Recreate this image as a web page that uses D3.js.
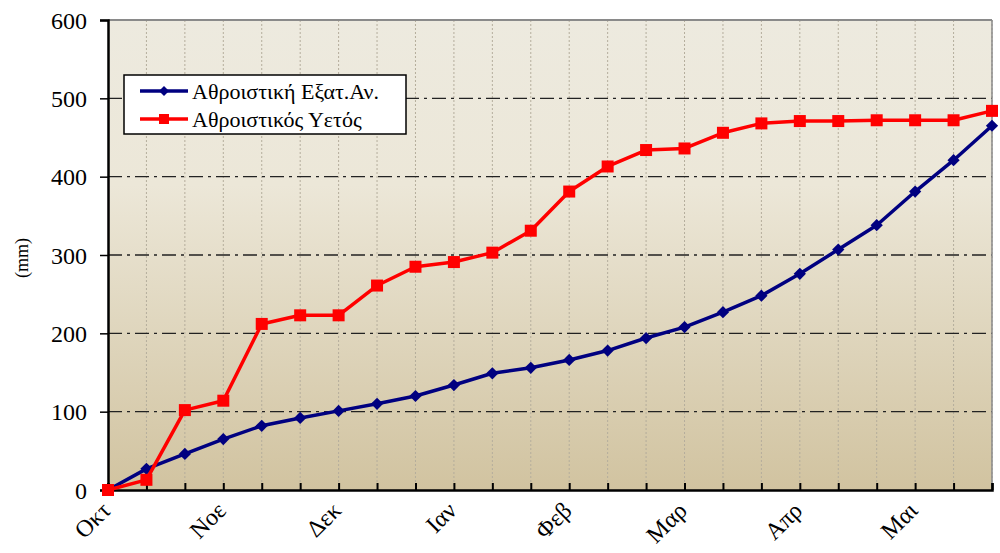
<!DOCTYPE html>
<html>
<head>
<meta charset="utf-8">
<script src="https://cdn.jsdelivr.net/npm/d3@7"></script>
<style>
  body { margin: 0; background: #fff; }
</style>
</head>
<body>
<svg id="chart"></svg>
<script>
// cumulative values per dekad, Oct..May (24 points)
const monthLabels = ['Οκτ', 'Νοε', 'Δεκ', 'Ιαν', 'Φεβ', 'Μαρ', 'Απρ', 'Μαι']
const evapValues = [0, 27, 46, 65, 82, 92, 101, 110, 120, 134, 149, 156, 166, 178, 194, 208, 227, 248, 276, 307, 338, 381, 421, 465]
const rainValues = [0, 13, 102, 114, 212, 223, 223, 261, 285, 291, 303, 331, 381, 413, 434, 436, 456, 468, 471, 471, 472, 472, 472, 484]
const seriesNames = ['Αθροιστική Εξατ.Αν.', 'Αθροιστικός Υετός']
const yTicks = [0, 100, 200, 300, 400, 500, 600]

const FONT = 'Liberation Serif'
const W = 1000
const H = 553
const margin = { top: 20, left: 108, right: 8, bottom: 63 }
const width = W - margin.left - margin.right
const height = H - margin.top - margin.bottom

const root = d3.select('#chart').attr('width', W).attr('height', H)

const defs = root.append('defs')
const grad = defs.append('linearGradient')
  .attr('id', 'bg').attr('x1', 0).attr('y1', 0).attr('x2', 0).attr('y2', 1)
grad.append('stop').attr('offset', '0%').attr('stop-color', '#edeadf')
grad.append('stop').attr('offset', '35%').attr('stop-color', '#ece7d8')
grad.append('stop').attr('offset', '100%').attr('stop-color', '#d1c3a0')

const svg = root.append('g')
  .attr('transform', 'translate(' + margin.left + ',' + margin.top + ')')

/// Scales
const idx = d3.range(evapValues.length)
const xScale = d3.scaleLinear().domain([0, idx.length - 1]).range([0, width])
const yScale = d3.scaleLinear().domain([0, 600]).range([height, 0])

// plot background
svg.append('rect')
  .attr('width', width).attr('height', height)
  .attr('fill', 'url(#bg)')

// vertical dotted grid
svg.append('g')
  .selectAll('line')
  .data(idx.slice(1))
  .enter()
  .append('line')
  .attr('x1', d => xScale(d)).attr('x2', d => xScale(d))
  .attr('y1', 0).attr('y2', height)
  .attr('stroke', '#b4ad9c')
  .attr('stroke-width', 1)
  .attr('stroke-dasharray', '2,2')

// horizontal dash-dot grid
svg.append('g')
  .selectAll('line')
  .data(yTicks.filter(d => d > 0 && d < 600))
  .enter()
  .append('line')
  .attr('x1', 0).attr('x2', width)
  .attr('y1', d => yScale(d)).attr('y2', d => yScale(d))
  .attr('stroke', '#222')
  .attr('stroke-width', 1.3)
  .attr('stroke-dasharray', '14,5,3,5')

// top and right border
svg.append('line')
  .attr('x1', 0).attr('x2', width).attr('y1', 0).attr('y2', 0)
  .attr('stroke', '#8a8a8a').attr('stroke-width', 2)
svg.append('line')
  .attr('x1', width).attr('x2', width).attr('y1', 0).attr('y2', height)
  .attr('stroke', '#8a8a8a').attr('stroke-width', 1.5)

// y axis
const yAxis = svg.append('g')
  .call(d3.axisLeft(yScale).tickValues(yTicks).tickSize(8).tickPadding(13))
yAxis.attr('font-family', FONT)
yAxis.select('.domain').attr('stroke', '#000').attr('stroke-width', 2.5)
yAxis.selectAll('.tick line').attr('stroke', '#000').attr('stroke-width', 1.5)
yAxis.selectAll('text')
  .attr('font-family', FONT)
  .attr('font-size', 24)
  .attr('fill', '#000')
  .attr('dy', '0.34em')

// x axis, ticks inside
const xAxis = svg.append('g')
  .attr('transform', 'translate(0,' + height + ')')
  .call(d3.axisBottom(xScale).tickValues(idx).tickSize(-7).tickFormat(''))
xAxis.select('.domain').attr('stroke', '#000').attr('stroke-width', 2.5)
xAxis.selectAll('.tick line').attr('stroke', '#000').attr('stroke-width', 2)

// month labels rotated
svg.append('g')
  .selectAll('text')
  .data(monthLabels)
  .enter()
  .append('text')
  .attr('transform', (d, i) => 'translate(' + (xScale(i * 3) + 4) + ',' + (height + 22) + ') rotate(-45)')
  .attr('text-anchor', 'end')
  .attr('font-family', FONT)
  .attr('font-size', 24)
  .attr('fill', '#000')
  .text(d => d)

// y label
svg.append('text')
  .attr('transform', 'translate(' + (-80) + ',' + (height / 2 + 3) + ') rotate(-90)')
  .attr('text-anchor', 'middle')
  .attr('font-family', FONT)
  .attr('font-size', 18)
  .attr('fill', '#000')
  .text('(mm)')

const line = d3.line()
  .x((d, i) => xScale(i))
  .y(d => yScale(d))

const colors = ['#000080', '#ff0000']

// evaporation line
svg.append('path')
  .datum(evapValues)
  .attr('d', line)
  .attr('fill', 'none')
  .attr('stroke', colors[0])
  .attr('stroke-width', 3.5)
  .attr('stroke-linejoin', 'round')

svg.append('g')
  .selectAll('path')
  .data(evapValues)
  .enter()
  .append('path')
  .attr('d', d3.symbol().type(d3.symbolSquare).size(75))
  .attr('transform', (d, i) => 'translate(' + xScale(i) + ',' + yScale(d) + ') rotate(45)')
  .attr('fill', colors[0])

// rain line
svg.append('path')
  .datum(rainValues)
  .attr('d', line)
  .attr('fill', 'none')
  .attr('stroke', colors[1])
  .attr('stroke-width', 3.5)
  .attr('stroke-linejoin', 'round')

svg.append('g')
  .selectAll('rect')
  .data(rainValues)
  .enter()
  .append('rect')
  .attr('x', (d, i) => xScale(i) - 6)
  .attr('y', d => yScale(d) - 6)
  .attr('width', 12)
  .attr('height', 12)
  .attr('fill', colors[1])

/// legend
const legend = svg.append('g').attr('transform', 'translate(16,55)')
legend.append('rect')
  .attr('width', 282).attr('height', 59)
  .attr('fill', '#fff')
  .attr('stroke', '#000')
  .attr('stroke-width', 1.5)

seriesNames.forEach((name, i) => {
  const row = legend.append('g').attr('transform', 'translate(0,' + (16 + i * 28) + ')')
  row.append('line')
    .attr('x1', 16).attr('x2', 64)
    .attr('stroke', colors[i]).attr('stroke-width', 3.5)
  if (i === 0) {
    row.append('path')
      .attr('d', d3.symbol().type(d3.symbolSquare).size(50))
      .attr('transform', 'translate(40,0) rotate(45)')
      .attr('fill', colors[i])
  } else {
    row.append('rect')
      .attr('x', 35).attr('y', -5).attr('width', 10).attr('height', 10)
      .attr('fill', colors[i])
  }
  row.append('text')
    .attr('x', 68).attr('dy', '0.35em')
    .attr('font-family', FONT)
    .attr('font-size', 22)
    .attr('fill', '#000')
    .text(name)
})
</script>
</body>
</html>
